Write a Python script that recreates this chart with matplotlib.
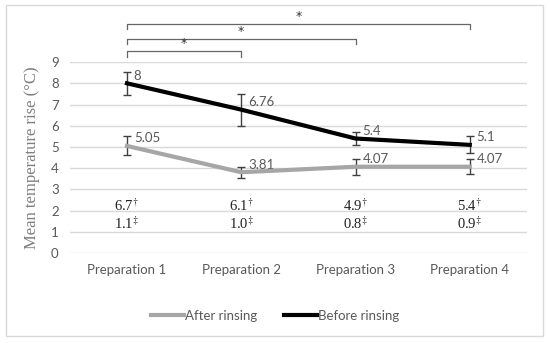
import matplotlib.pyplot as plt
import numpy as np

categories = ["Preparation 1", "Preparation 2", "Preparation 3", "Preparation 4"]
before = [8, 6.76, 5.4, 5.1]
before_err = [0.55, 0.75, 0.3, 0.4]
after = [5.05, 3.81, 4.07, 4.07]
after_err = [0.45, 0.25, 0.38, 0.35]
row_dagger = ["6.7", "6.1", "4.9", "5.4"]
row_ddagger = ["1.1", "1.0", "0.8", "0.9"]
# significance brackets: (from, to, level)
brackets = [(0, 1, 9.5), (0, 2, 10.1), (0, 3, 10.8)]

plt.rcParams["mathtext.fontset"] = "stix"
fig = plt.figure(figsize=(5.5, 3.43), dpi=100)
ax = fig.add_axes([0.127, 0.262, 0.831, 0.557])

x = np.arange(len(categories))
txt = "#595959"

ax.errorbar(x, after, yerr=after_err, color="#A6A6A6", lw=3, ecolor="#404040",
            elinewidth=1, capsize=3, capthick=1, label="After rinsing", zorder=3)
ax.errorbar(x, before, yerr=before_err, color="black", lw=3, ecolor="#404040",
            elinewidth=1, capsize=3, capthick=1, label="Before rinsing", zorder=4)

for xi, v in zip(x, before):
    ax.text(xi + 0.06, v + 0.08, f"{v:g}", color=txt, fontsize=9.5, va="bottom", ha="left",
            family="Lato")
for xi, v in zip(x, after):
    ax.text(xi + 0.06, v + 0.08, f"{v:g}", color=txt, fontsize=9.5, va="bottom", ha="left",
            family="Lato")

for xi, a, b in zip(x, row_dagger, row_ddagger):
    ax.text(xi, 2.25, a + r"$^{\dag}$", ha="center", va="center", fontsize=10.5,
            family="Liberation Serif", color="#222222")
    ax.text(xi, 1.4, b + r"$^{\ddag}$", ha="center", va="center", fontsize=10.5,
            family="Liberation Serif", color="#222222")

for i, j, lev in brackets:
    ax.plot([x[i], x[i], x[j], x[j]], [lev - 0.25, lev, lev, lev - 0.25], color="#666666",
            lw=0.9, clip_on=False)
    ax.text((x[i] + x[j]) / 2, lev + 0.05, "*", ha="center", va="bottom", fontsize=9,
            color="#333333", clip_on=False)

ax.set_xlim(-0.5, 3.5)
ax.set_ylim(0, 9)
ax.set_yticks(range(0, 10))
ax.set_xticks(x)
ax.set_xticklabels(categories)
ax.grid(axis="y", color="#D9D9D9", lw=1)
ax.set_axisbelow(True)
for s in ax.spines.values():
    s.set_visible(False)
ax.tick_params(length=0, colors=txt, labelsize=9.5, pad=8)
for lab in ax.get_xticklabels() + ax.get_yticklabels():
    lab.set_family("Lato")
ax.set_ylabel("Mean temperature rise (°C)", family="Liberation Serif", fontsize=12,
              color="#7F7F7F", labelpad=8)

handles, labels = ax.get_legend_handles_labels()
handles = [h[0] for h in handles]
fig.legend(handles, labels, loc="center", bbox_to_anchor=(0.5, 0.08), ncol=2, frameon=False,
           prop={"family": "Lato", "size": 9.5}, labelcolor=txt, handlelength=2.5,
           handletextpad=0.1, columnspacing=2.0)

fig.patches.append(plt.Rectangle((0.011, 0.02), 0.977, 0.965, transform=fig.transFigure,
                                 fill=False, edgecolor="#D9D9D9", lw=1))
fig.savefig("out.png", dpi=100)
